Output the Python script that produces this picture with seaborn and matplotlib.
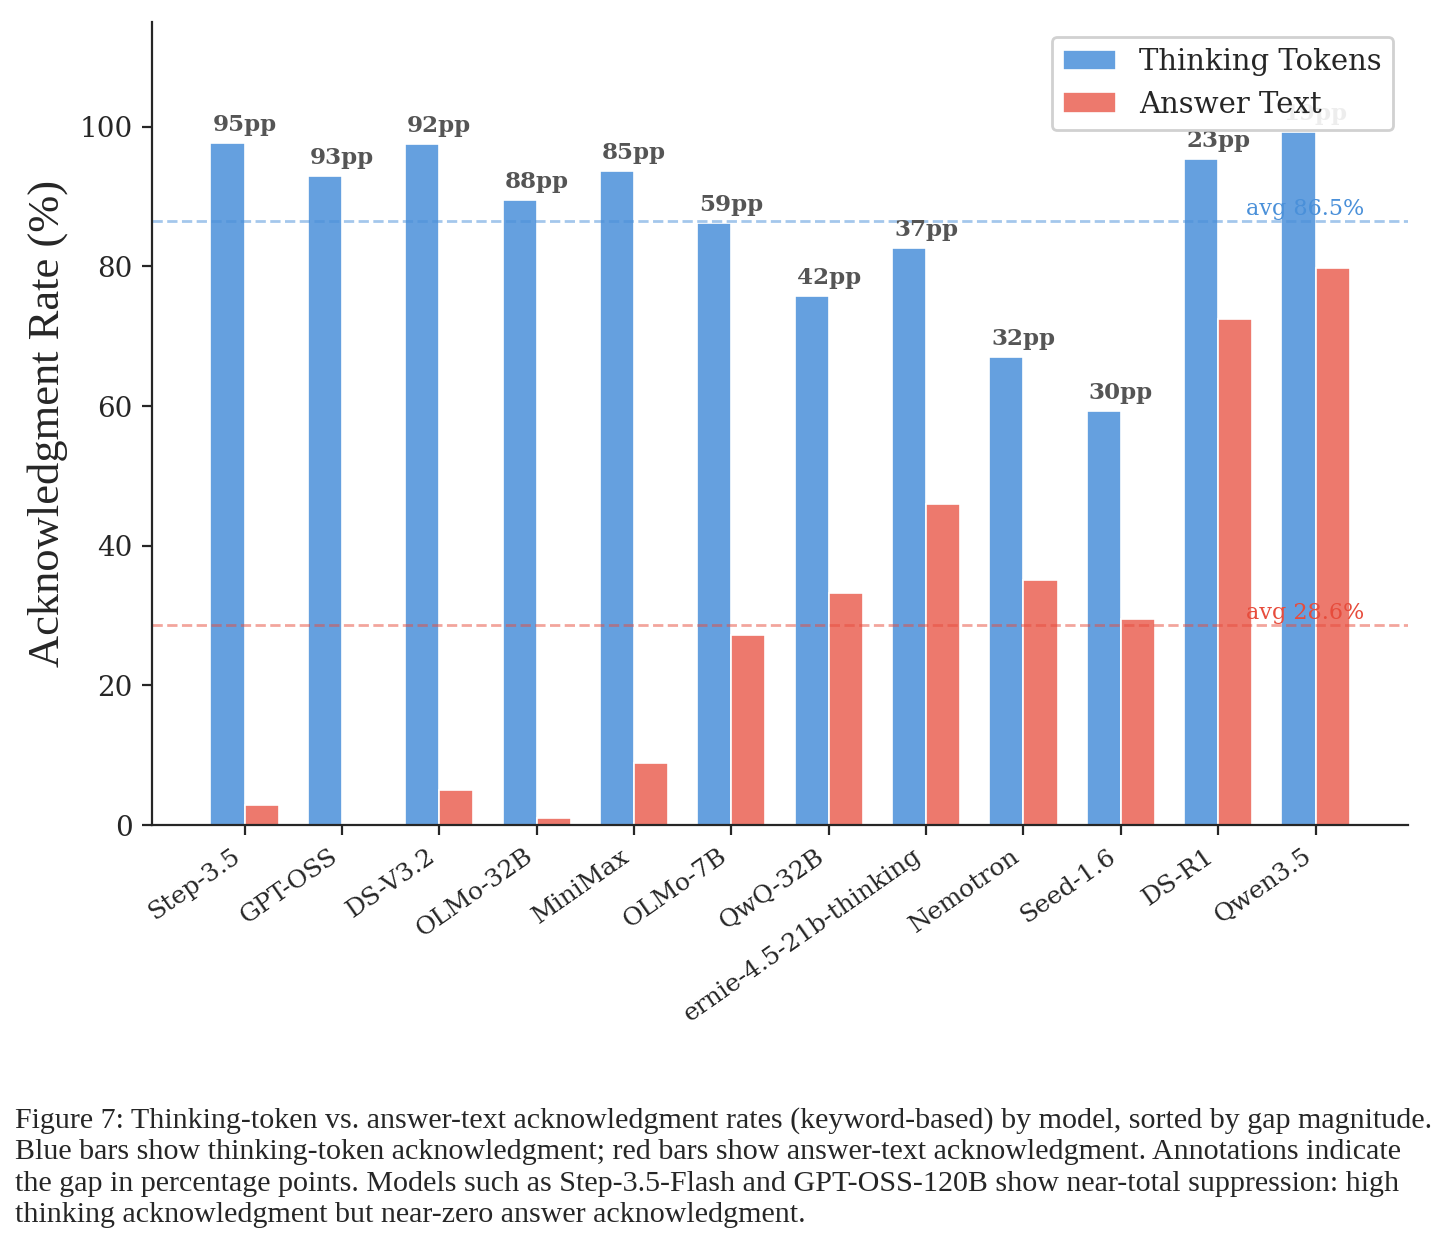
import pandas as pd
import matplotlib
matplotlib.use("Agg")
import matplotlib.pyplot as plt
import seaborn as sns

models = ["Step-3.5", "GPT-OSS", "DS-V3.2", "OLMo-32B", "MiniMax", "OLMo-7B",
          "QwQ-32B", "ernie-4.5-21b-thinking", "Nemotron", "Seed-1.6", "DS-R1", "Qwen3.5"]
thinking = [97.6, 93.0, 97.5, 89.5, 93.7, 86.2, 75.7, 82.6, 67.0, 59.3, 95.4, 99.3]
answer = [2.9, 0.0, 5.0, 1.0, 8.9, 27.2, 33.2, 46.0, 35.1, 29.5, 72.4, 79.7]
gap_labels = ["95pp", "93pp", "92pp", "88pp", "85pp", "59pp", "42pp", "37pp",
              "32pp", "30pp", "23pp", "19pp"]
avg_thinking = 86.5
avg_answer = 28.6

caption = ("Figure 7: Thinking-token vs. answer-text acknowledgment rates (keyword-based) by model, sorted by gap magnitude.\n"
           "Blue bars show thinking-token acknowledgment; red bars show answer-text acknowledgment. Annotations indicate\n"
           "the gap in percentage points. Models such as Step-3.5-Flash and GPT-OSS-120B show near-total suppression: high\n"
           "thinking acknowledgment but near-zero answer acknowledgment.")

BLUE = "#4A90D9"
RED = "#E74C3C"


def main():
    sns.set_style("ticks")
    plt.rcParams["font.family"] = ["DejaVu Serif"]

    df = pd.DataFrame({"model": models * 2,
                       "rate": thinking + answer,
                       "kind": ["Thinking Tokens"] * len(models) + ["Answer Text"] * len(models)})

    fig = plt.figure(figsize=(7.2, 6.275), dpi=200)
    ax = fig.add_axes([0.1056, 0.3426, 0.8722, 0.6399])
    sns.barplot(data=df, x="model", y="rate", hue="kind", ax=ax,
                palette={"Thinking Tokens": "#65A0DF", "Answer Text": "#ED796D"},
                width=0.7, edgecolor="white", linewidth=0.6, errorbar=None,
                saturation=1)

    # gap annotations above the blue bars
    for i, (t, lab) in enumerate(zip(thinking, gap_labels)):
        ax.text(i, t + 1.0, lab, ha="center", va="bottom", fontsize=8.3,
                fontweight="bold", color="#555555")

    # averages
    ax.axhline(avg_thinking, color=BLUE, ls="--", lw=1, alpha=0.5)
    ax.axhline(avg_answer, color=RED, ls="--", lw=1, alpha=0.5)
    ax.text(len(models) - 0.5, avg_thinking + 0.2, f"avg {avg_thinking}%", color=BLUE,
            ha="right", va="bottom", fontsize=8)
    ax.text(len(models) - 0.5, avg_answer + 0.2, f"avg {avg_answer}%", color=RED,
            ha="right", va="bottom", fontsize=8)

    ax.set_xlim(-0.95, len(models) - 0.05)
    ax.set_ylim(0, 115)
    ax.set_yticks([0, 20, 40, 60, 80, 100])
    ax.tick_params(axis="y", labelsize=10)
    ax.tick_params(axis="x", labelsize=9)
    ax.set_xlabel("")
    ax.set_ylabel("Acknowledgment Rate (%)", fontsize=16, family=["Liberation Serif"])
    plt.setp(ax.get_xticklabels(), rotation=35, ha="right")
    sns.despine(ax=ax)

    leg = ax.legend(loc="upper right", fontsize=10.5, framealpha=0.9, handlelength=1.8)
    leg.set_title("")

    fig.text(0.0104, 0.118, caption, ha="left", va="top", fontsize=10.8,
             family=["Liberation Serif"], linespacing=1.27)

    fig.savefig("out.png", dpi=200)
    plt.close(fig)


if __name__ == "__main__":
    main()
